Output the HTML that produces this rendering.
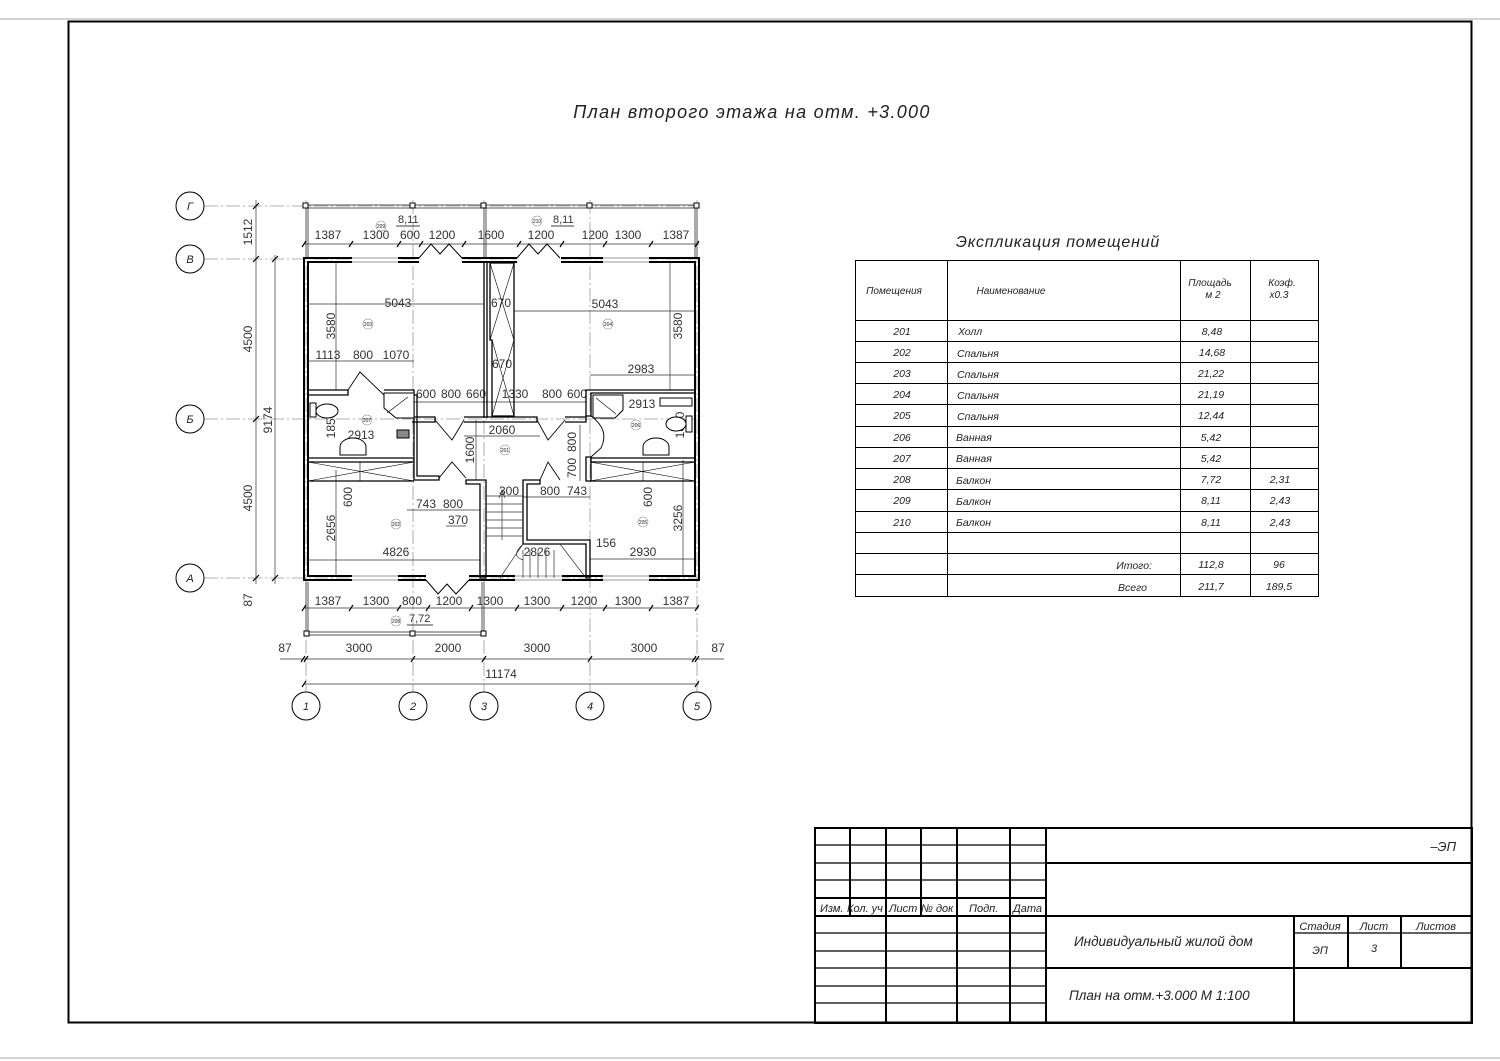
<!DOCTYPE html>
<html><head><meta charset="utf-8"><style>
html,body{margin:0;padding:0;background:#fff;}
svg{display:block;}
text{font-family:"Liberation Sans","DejaVu Sans",sans-serif;font-style:italic;fill:#222;}
.d text{font-size:12px;font-style:normal;fill:#333;}
.t{font-size:10.5px;}
.s text{font-size:5px;font-style:normal;}
</style></head><body>
<svg width="1500" height="1061" viewBox="0 0 1500 1061" xmlns="http://www.w3.org/2000/svg">
<rect width="1500" height="1061" fill="#fff"/>
<line x1="0" y1="19" x2="1500" y2="19" stroke="#aaa" stroke-width="1"/>
<line x1="0" y1="1058" x2="1500" y2="1058" stroke="#aaa" stroke-width="1"/>
<rect x="68.5" y="21.5" width="1403" height="1001" fill="none" stroke="#000" stroke-width="2"/>

<text x="752" y="118" font-size="18" text-anchor="middle" letter-spacing="1.3">План второго этажа на отм. +3.000</text>

<g stroke="#999" stroke-width="0.8" stroke-dasharray="14,3,2,3" fill="none">
<line x1="204" y1="206" x2="700" y2="206"/>
<line x1="204" y1="259" x2="700" y2="259"/>
<line x1="204" y1="419" x2="700" y2="419"/>
<line x1="204" y1="578" x2="700" y2="578"/>
<line x1="306" y1="200" x2="306" y2="692"/>
<line x1="413" y1="200" x2="413" y2="692"/>
<line x1="484" y1="200" x2="484" y2="692"/>
<line x1="590" y1="200" x2="590" y2="692"/>
<line x1="697" y1="200" x2="697" y2="692"/>
</g>
<g fill="#fff" stroke="#000" stroke-width="1">
<circle cx="190" cy="206" r="14"/><circle cx="190" cy="259" r="14"/><circle cx="190" cy="419" r="14"/><circle cx="190" cy="578" r="14"/>
<circle cx="306" cy="706" r="14"/><circle cx="413" cy="706" r="14"/><circle cx="484" cy="706" r="14"/><circle cx="590" cy="706" r="14"/><circle cx="697" cy="706" r="14"/>
</g>
<g font-size="11" text-anchor="middle">
<text x="190" y="210">Г</text><text x="190" y="263">В</text><text x="190" y="423">Б</text><text x="190" y="582">А</text>
<text x="306" y="710">1</text><text x="413" y="710">2</text><text x="484" y="710">3</text><text x="590" y="710">4</text><text x="697" y="710">5</text>
</g>

<g fill="none" stroke="#555" stroke-width="1">
<line x1="306" y1="205" x2="697" y2="205"/><line x1="306" y1="208" x2="697" y2="208"/>
<line x1="306" y1="206" x2="306" y2="257"/><line x1="308" y1="206" x2="308" y2="257"/>
<line x1="697" y1="206" x2="697" y2="257"/><line x1="695" y1="206" x2="695" y2="257"/>
<line x1="484" y1="206" x2="484" y2="257"/><line x1="486" y1="206" x2="486" y2="257"/>
<line x1="306" y1="632" x2="484" y2="632"/><line x1="306" y1="635" x2="484" y2="635"/>
<line x1="306" y1="582" x2="306" y2="634"/><line x1="308" y1="582" x2="308" y2="634"/>
<line x1="484" y1="582" x2="484" y2="634"/><line x1="482" y1="582" x2="482" y2="634"/>
</g>
<g fill="#fff" stroke="#000" stroke-width="1">
<rect x="303" y="203" width="5" height="5"/><rect x="410" y="203" width="5" height="5"/><rect x="481" y="203" width="5" height="5"/><rect x="587" y="203" width="5" height="5"/><rect x="694" y="203" width="5" height="5"/>
<rect x="304" y="631" width="5" height="5"/><rect x="410" y="631" width="5" height="5"/><rect x="481" y="631" width="5" height="5"/>
</g>
<g stroke="#888" stroke-width="0.6" fill="none"><circle cx="381" cy="226" r="5"/><circle cx="537" cy="221" r="5"/><circle cx="396" cy="621" r="5"/>
<circle cx="368" cy="324" r="5"/><circle cx="608" cy="324" r="5"/><circle cx="367" cy="420" r="5"/><circle cx="636" cy="425" r="5"/><circle cx="505" cy="450" r="5"/><circle cx="396" cy="524" r="5"/><circle cx="643" cy="522" r="5"/></g>
<g class="s" text-anchor="middle"><text x="381" y="228">209</text><text x="537" y="223">210</text><text x="396" y="623">208</text><text x="368" y="326">203</text><text x="608" y="326">204</text><text x="367" y="422">207</text><text x="636" y="427">206</text><text x="505" y="452">201</text><text x="396" y="526">202</text><text x="643" y="524">205</text></g>
<g class="d"><text x="398" y="223" style="font-size:11px">8,11</text><text x="553" y="223" style="font-size:11px">8,11</text><text x="409" y="622" style="font-size:11px">7,72</text></g>
<g stroke="#000" stroke-width="0.8"><line x1="396" y1="226" x2="420" y2="226"/><line x1="551" y1="226" x2="574" y2="226"/><line x1="407" y1="625" x2="433" y2="625"/></g>

<g stroke="#333" stroke-width="0.7" fill="none">
<line x1="304" y1="244" x2="699" y2="244"/>
<line x1="304" y1="608" x2="699" y2="608"/>
<line x1="280" y1="659" x2="724" y2="659"/>
<line x1="304" y1="684" x2="699" y2="684"/>
<line x1="256" y1="200" x2="256" y2="584"/>
<line x1="275" y1="255" x2="275" y2="584"/>
<line x1="308" y1="304" x2="484" y2="304"/>
<line x1="514" y1="311" x2="695" y2="311"/>
<line x1="308" y1="361" x2="414" y2="361"/>
<line x1="590" y1="375" x2="695" y2="375"/>
<line x1="414" y1="402" x2="586" y2="402"/>
<line x1="464" y1="436" x2="540" y2="436"/>
<line x1="308" y1="560" x2="480" y2="560"/>
<line x1="590" y1="559" x2="695" y2="559"/>
<line x1="407" y1="510" x2="480" y2="510"/>
<line x1="523" y1="497" x2="590" y2="497"/>
<line x1="336" y1="470" x2="336" y2="575"/>
<line x1="336" y1="262" x2="336" y2="390"/>
<line x1="670" y1="262" x2="670" y2="390"/>
<line x1="683" y1="460" x2="683" y2="575"/>
<line x1="580" y1="425" x2="580" y2="481"/>
<line x1="476" y1="420" x2="476" y2="480"/>
<line x1="446" y1="526" x2="466" y2="526"/>
</g>
<g stroke="#000" stroke-width="1.2">
<path d="M302 247l4-6M349 247l4-6M397 247l4-6M419 247l4-6M462 247l4-6M517 247l4-6M560 247l4-6M603 247l4-6M649 247l4-6M695 247l4-6"/>
<path d="M302 611l4-6M349 611l4-6M397 611l4-6M426 611l4-6M469 611l4-6M515 611l4-6M560 611l4-6M603 611l4-6M649 611l4-6M695 611l4-6"/>
<path d="M301 662l4-6M304 662l4-6M411 662l4-6M482 662l4-6M588 662l4-6M692 662l4-6M695 662l4-6"/>
<path d="M302 687l4-6M695 687l4-6"/>
<path d="M253 209l6-6M253 262l6-6M253 422l6-6M253 581l6-6M272 262l6-6M272 581l6-6"/>
</g>
<g class="d" text-anchor="middle">
<text x="328" y="239">1387</text><text x="376" y="239">1300</text><text x="410" y="239">600</text><text x="442" y="239">1200</text><text x="491" y="239">1600</text><text x="541" y="239">1200</text><text x="595" y="239">1200</text><text x="628" y="239">1300</text><text x="676" y="239">1387</text>
<text x="328" y="605">1387</text><text x="376" y="605">1300</text><text x="412" y="605">800</text><text x="449" y="605">1200</text><text x="490" y="605">1300</text><text x="537" y="605">1300</text><text x="584" y="605">1200</text><text x="628" y="605">1300</text><text x="676" y="605">1387</text>
<text x="285" y="652">87</text><text x="359" y="652">3000</text><text x="448" y="652">2000</text><text x="537" y="652">3000</text><text x="644" y="652">3000</text><text x="718" y="652">87</text>
<text x="501" y="678">11174</text>
<text x="398" y="307">5043</text><text x="605" y="308">5043</text><text x="501" y="307">670</text><text x="502" y="368">670</text>
<text x="328" y="359">1113</text><text x="363" y="359">800</text><text x="396" y="359">1070</text>
<text x="641" y="373">2983</text>
<text x="426" y="398">600</text><text x="451" y="398">800</text><text x="476" y="398">660</text><text x="515" y="398">1330</text><text x="552" y="398">800</text><text x="577" y="398">600</text>
<text x="361" y="439">2913</text><text x="642" y="408">2913</text><text x="502" y="434">2060</text>
<text x="426" y="508">743</text><text x="453" y="508">800</text><text x="458" y="524">370</text>
<text x="509" y="495">300</text><text x="550" y="495">800</text><text x="577" y="495">743</text>
<text x="396" y="556">4826</text><text x="537" y="556">2826</text><text x="643" y="556">2930</text><text x="606" y="547">156</text>
</g>
<g class="d" text-anchor="middle">
<text transform="translate(252,232) rotate(-90)">1512</text>
<text transform="translate(252,339) rotate(-90)">4500</text>
<text transform="translate(252,498) rotate(-90)">4500</text>
<text transform="translate(252,600) rotate(-90)">87</text>
<text transform="translate(272,420) rotate(-90)">9174</text>
<text transform="translate(335,326) rotate(-90)">3580</text>
<text transform="translate(682,326) rotate(-90)">3580</text>
<text transform="translate(335,425) rotate(-90)">1850</text>
<text transform="translate(684,425) rotate(-90)">1850</text>
<text transform="translate(474,450) rotate(-90)">1600</text>
<text transform="translate(576,442) rotate(-90)">800</text>
<text transform="translate(576,468) rotate(-90)">700</text>
<text transform="translate(352,497) rotate(-90)">600</text>
<text transform="translate(652,497) rotate(-90)">600</text>
<text transform="translate(335,528) rotate(-90)">2656</text>
<text transform="translate(682,518) rotate(-90)">3256</text>
</g>

<g fill="none" stroke="#000" stroke-width="2">
<rect x="304" y="258" width="395" height="322"/>
<rect x="308" y="262" width="387" height="314"/>
</g>
<g fill="#fff" stroke="none">
<rect x="352" y="256" width="46" height="8"/><rect x="419" y="256" width="43" height="8"/><rect x="517" y="256" width="44" height="8"/><rect x="603" y="256" width="46" height="8"/>
<rect x="352" y="574" width="46" height="8"/><rect x="426" y="574" width="43" height="8"/><rect x="515" y="574" width="47" height="8"/><rect x="603" y="574" width="46" height="8"/>
</g>
<g stroke="#777" stroke-width="0.8" fill="none">
<path d="M352 258H398M352 262H398M603 258H649M603 262H649"/>
<path d="M352 576H398M352 580H398M515 576H562M515 580H562M603 576H649M603 580H649"/>
</g>
<g stroke="#000" stroke-width="1" fill="none">
<path d="M419 258l12 -14 9 10 9 -10 13 14"/><path d="M517 258l12 -14 9 10 9 -10 13 14"/>
<path d="M426 580l12 14 9 -10 9 10 13 -14"/>
</g>
<g stroke="#000" stroke-width="1.3" fill="none">
<path d="M484 262V418M487 262V418"/>
<path d="M490 263H514V416H492V340H490Z"/>
<path d="M490 263L514 340M514 263L490 340M492 340L514 416M514 340L492 416" stroke-width="0.6"/>
<path d="M308 390H348V395H308M384 390H414V480H439V476H417V395H414"/>
<path d="M412 417H435V422H412M464 417H537V422H464M565 417H586V422H565"/>
<path d="M308 458H414M308 462H414M308 481H414M590 458H695M590 462H695M590 481H695"/>
<path d="M308 462L414 481M308 481L414 462M360 462V481M590 462L695 481M590 481L695 462M643 462V481" stroke-width="0.6"/>
<path d="M586 390H695V393H591V416H586ZM586 457H591V481H586Z"/>
<path d="M466 480H486V578H480V484H466ZM523 480H540V484H527V540H590V578H586V544H523Z"/>
</g>
<g stroke="#000" stroke-width="0.9" fill="none">
<path d="M348 390L360 372 384 395"/>
<path d="M435 420L452 440 464 420"/>
<path d="M537 420L548 440 565 420"/>
<path d="M591 416Q610 430 601 448L591 457"/>
<path d="M439 478L452 462 466 478"/>
<path d="M540 480L548 462 560 480"/>
</g>
<g stroke="#333" stroke-width="0.7" fill="none">
<path d="M486 496H523M486 504H523M486 512H523M486 520H523M486 528H523M486 536H523"/>
<path d="M523 550V578M530 550V578M538 550V578M546 550V578M554 550V578"/>
<path d="M523 544L500 578M523 544Q510 556 523 560M560 544L586 578"/>
<path d="M505 498l-3 -8 -3 8M502 490V540" />
</g>
<g stroke="#000" stroke-width="1" fill="#fff">
<rect x="310" y="403" width="6" height="14"/><ellipse cx="327" cy="411" rx="11" ry="7"/>
<path d="M340 447a13 9 0 0 1 26 0v8h-26z"/>
<path d="M384 393H414V418H396L384 408Z"/>
<path d="M593 395H623V410L615 418H593Z"/>
<rect x="686" y="416" width="6" height="16"/><ellipse cx="676" cy="424" rx="10" ry="7"/>
<path d="M643 447a13 9 0 0 1 26 0v8h-26z"/>
<rect x="660" y="398" width="32" height="8"/>
<rect x="397" y="430" width="12" height="8" fill="#888"/>
</g>
<g stroke="#000" stroke-width="0.6"><path d="M387 413L408 397M596 398L616 414"/></g>

<text x="1058" y="247" font-size="16" text-anchor="middle" letter-spacing="0.8">Экспликация помещений</text>
<g stroke="#000" stroke-width="1" fill="none">
<rect x="855.5" y="260.5" width="463" height="336"/>
<path d="M947.5 260V596M1180.5 260V596M1250.5 260V596"/>
<path d="M855 320.5H1318M855 341.5H1318M855 362.5H1318M855 383.5H1318M855 404.5H1318M855 426.5H1318M855 447.5H1318M855 468.5H1318M855 489.5H1318M855 511.5H1318M855 532.5H1318M855 553.5H1318M855 574.5H1318"/>
</g>
<g class="t">
<text x="894" y="294" text-anchor="middle" font-size="10">Помещения</text>
<text x="1011" y="294" text-anchor="middle" font-size="10">Наименование</text>
<text x="1210" y="286" text-anchor="middle" font-size="10">Площадь</text><text x="1213" y="298" text-anchor="middle" font-size="10">м 2</text>
<text x="1282" y="286" text-anchor="middle" font-size="10">Коэф.</text><text x="1279" y="298" text-anchor="middle" font-size="10">x0.3</text>
<g text-anchor="middle">
<text x="902" y="335">201</text><text x="902" y="356">202</text><text x="902" y="377">203</text><text x="902" y="398">204</text><text x="902" y="419">205</text><text x="902" y="441">206</text><text x="902" y="462">207</text><text x="902" y="483">208</text><text x="902" y="504">209</text><text x="902" y="526">210</text>
<text x="1212" y="335">8,48</text><text x="1212" y="356">14,68</text><text x="1211" y="377">21,22</text><text x="1211" y="398">21,19</text><text x="1211" y="419">12,44</text><text x="1211" y="441">5,42</text><text x="1211" y="462">5,42</text><text x="1211" y="483">7,72</text><text x="1211" y="504">8,11</text><text x="1211" y="526">8,11</text>
<text x="1280" y="483">2,31</text><text x="1280" y="504">2,43</text><text x="1280" y="526">2,43</text>
<text x="1211" y="568">112,8</text><text x="1279" y="568">96</text>
<text x="1211" y="590">211,7</text><text x="1279" y="590">189,5</text>
</g>
<text x="958" y="335">Холл</text><text x="957" y="357">Спальня</text><text x="957" y="378">Спальня</text><text x="957" y="399">Спальня</text><text x="957" y="420">Спальня</text><text x="956" y="441">Ванная</text><text x="956" y="462">Ванная</text><text x="956" y="484">Балкон</text><text x="956" y="505">Балкон</text><text x="956" y="526">Балкон</text>
<text x="1152" y="569" text-anchor="end">Итого:</text><text x="1147" y="591" text-anchor="end">Всего</text>
</g>

<g stroke="#000" stroke-width="2" fill="none">
<rect x="815" y="828" width="657" height="195"/>
<path d="M1046 828V1023M850 828V916M921 828V916M886 828V1023M957 828V1023M1010 828V1023"/>
<path d="M815 898H1046M815 916H1472M1046 863H1472M1046 968H1472M1294 916V1023M1348 916V968M1401 916V968"/>
</g>
<g stroke="#000" stroke-width="1.2">
<path d="M815 845H1046M815 863H1046M815 880H1046M815 933H1046M815 951H1046M815 968H1046M815 986H1046M815 1003H1046M1294 933H1472"/>
</g>
<g font-size="11">
<text x="820" y="912">Изм.</text><text x="847" y="912">Кол. уч</text><text x="889" y="912">Лист</text><text x="921" y="912">№ док</text><text x="969" y="912">Подп.</text><text x="1013" y="912">Дата</text>
<text x="1320" y="930" text-anchor="middle">Стадия</text><text x="1374" y="930" text-anchor="middle">Лист</text><text x="1436" y="930" text-anchor="middle">Листов</text>
<text x="1320" y="954" text-anchor="middle">ЭП</text><text x="1374" y="952" text-anchor="middle">3</text>
</g>
<text x="1456" y="851" font-size="13" text-anchor="end">–ЭП</text>
<text x="1074" y="946" font-size="13.5">Индивидуальный жилой дом</text>
<text x="1069" y="1000" font-size="13.5">План на отм.+3.000 М 1:100</text>
</svg>
</body></html>
